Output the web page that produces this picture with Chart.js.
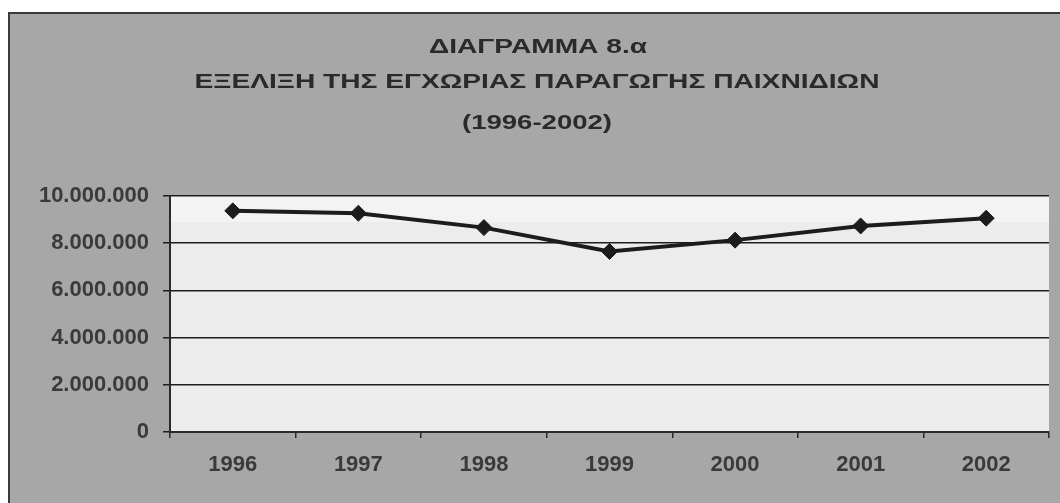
<!DOCTYPE html>
<html>
<head>
<meta charset="utf-8">
<script src="https://cdn.jsdelivr.net/npm/chart.js@4/dist/chart.umd.min.js"></script>
<style>
html,body{margin:0;padding:0;background:#ffffff;}
#wrap{width:1060px;height:503px;position:relative;}
</style>
</head>
<body>
<div id="wrap"><canvas id="c" width="1060" height="503"></canvas></div>
<script>
const categories = ['1996','1997','1998','1999','2000','2001','2002'];
const production = [9370000, 9270000, 8660000, 7650000, 8130000, 8730000, 9060000];
const yTicks = [0, 2000000, 4000000, 6000000, 8000000, 10000000];
const titleLines = ['ΔΙΑΓΡΑΜΜΑ 8.α', 'ΕΞΕΛΙΞΗ ΤΗΣ ΕΓΧΩΡΙΑΣ ΠΑΡΑΓΩΓΗΣ ΠΑΙΧΝΙΔΙΩΝ', '(1996-2002)'];

function fmt(v){
  return String(Math.round(v)).replace(/\B(?=(\d{3})+(?!\d))/g, '.');
}

function stretchedText(ctx, text, cx, cy, width){
  const w = ctx.measureText(text).width;
  ctx.save();
  ctx.translate(cx, cy);
  ctx.scale(width / w, 1);
  ctx.fillText(text, 0, 0);
  ctx.restore();
}

const bgPlugin = {
  id: 'bg',
  beforeDraw(chart){
    const ctx = chart.ctx;
    ctx.save();
    ctx.fillStyle = '#a7a7a7';
    ctx.fillRect(8, 12, 1052, 491);
    ctx.strokeStyle = '#3a3a3a';
    ctx.lineWidth = 2;
    ctx.beginPath();
    ctx.moveTo(9, 503); ctx.lineTo(9, 13); ctx.lineTo(1060, 13);
    ctx.stroke();
    const a = chart.chartArea;
    ctx.fillStyle = '#ececec';
    ctx.fillRect(a.left, a.top, a.right - a.left, a.bottom - a.top);
    ctx.fillStyle = '#f3f3f3';
    ctx.fillRect(a.left, a.top, a.right - a.left, 26);
    // title
    ctx.fillStyle = '#2a2a2a';
    ctx.textAlign = 'center';
    ctx.textBaseline = 'middle';
    ctx.font = 'bold 21px "Liberation Sans", Arial, sans-serif';
    stretchedText(ctx, titleLines[0], 538, 47, 218);
    stretchedText(ctx, titleLines[1], 537, 82, 685);
    stretchedText(ctx, titleLines[2], 537, 123, 150);
    ctx.restore();
  }
};

new Chart(document.getElementById('c'), {
  type: 'line',
  data: {
    labels: categories,
    datasets: [{
      data: production,
      borderColor: '#1c1c1c',
      backgroundColor: '#1c1c1c',
      borderWidth: 4,
      pointStyle: 'rectRot',
      pointRadius: 8,
      pointBorderWidth: 1,
      tension: 0,
      fill: false
    }]
  },
  options: {
    responsive: false,
    animation: false,
    devicePixelRatio: 1,
    layout: { padding: { left: 8, right: 11, top: 196, bottom: 0 } },
    plugins: { legend: { display: false }, title: { display: false }, tooltip: { enabled: false } },
    scales: {
      x: {
        type: 'category',
        offset: true,
        afterFit(s){ s.height = 71; },
        grid: { display: true, offset: true, drawOnChartArea: false, drawTicks: true, tickLength: 6, color: '#2a2a2a', lineWidth: 1.5 },
        border: { display: true, color: '#2a2a2a', width: 2 },
        ticks: { color: '#3a3a3a', font: { family: '"Liberation Sans", Arial, sans-serif', size: 22, weight: 'bold' }, padding: 14, maxRotation: 0 }
      },
      y: {
        min: 0,
        max: 10000000,
        afterFit(s){ s.width = 162; },
        afterBuildTicks(s){ s.ticks = yTicks.map(v => ({ value: v })); },
        grid: { display: true, drawOnChartArea: true, drawTicks: true, tickLength: 7, color: '#1e1e1e', lineWidth: 1.5 },
        border: { display: true, color: '#2a2a2a', width: 2 },
        ticks: { color: '#3a3a3a', font: { family: '"Liberation Sans", Arial, sans-serif', size: 22, weight: 'bold' }, padding: 14, callback: v => fmt(v) }
      }
    }
  },
  plugins: [bgPlugin]
});
</script>
</body>
</html>
